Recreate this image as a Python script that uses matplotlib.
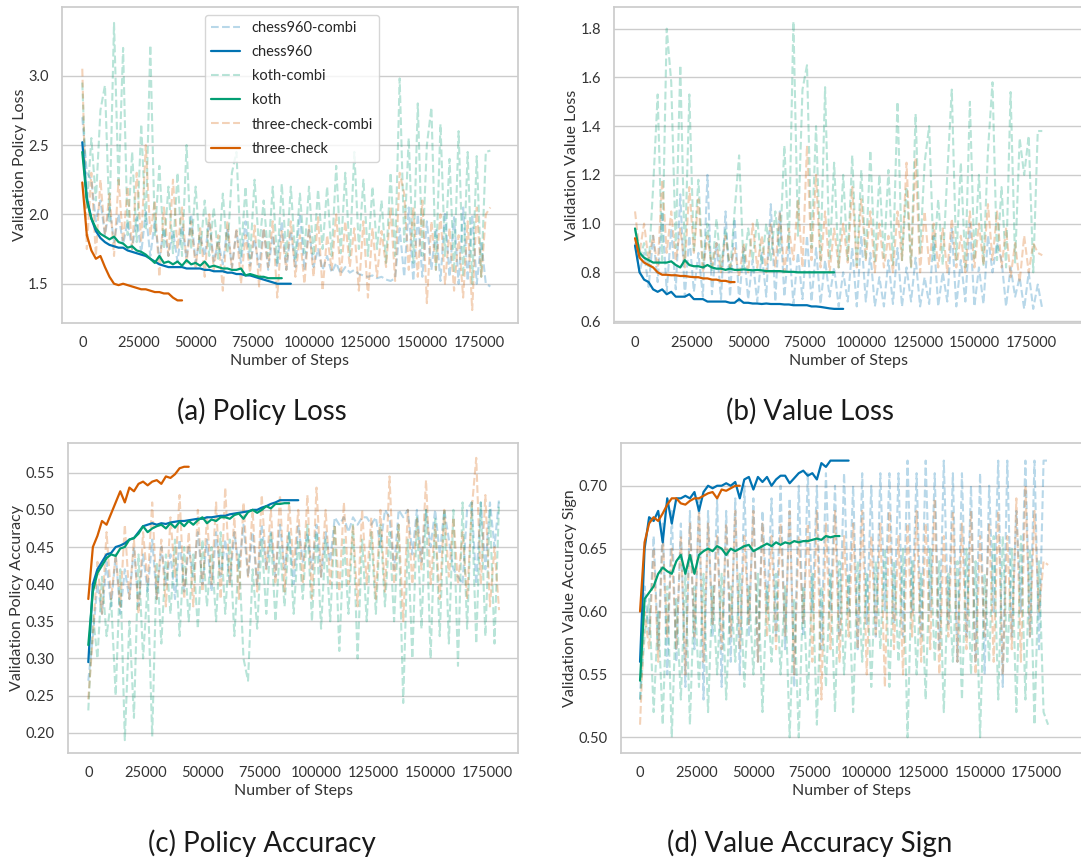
import numpy as np
import matplotlib
matplotlib.use("Agg")
import matplotlib.pyplot as plt
import seaborn as sns

sns.set_theme(style="whitegrid", palette="colorblind")
plt.rcParams['font.family'] = ['Lato', 'DejaVu Sans']

# validation runs were logged every 2000 steps
EVAL_EVERY = 2000

# ---- (a) policy loss ----
pl_chess960 = [2.52, 2.12, 1.97, 1.88, 1.83, 1.80, 1.78, 1.77, 1.76, 1.76,
               1.74, 1.73, 1.72, 1.71, 1.70, 1.68, 1.66, 1.64, 1.63, 1.62,
               1.62, 1.62, 1.62, 1.61, 1.61, 1.61, 1.61, 1.60, 1.60, 1.59,
               1.59, 1.59, 1.58, 1.58, 1.57, 1.57, 1.56, 1.56, 1.55, 1.54,
               1.53, 1.52, 1.51, 1.50, 1.50, 1.50, 1.50]
pl_koth = [2.45, 2.10, 1.97, 1.90, 1.86, 1.84, 1.82, 1.84, 1.80, 1.79,
           1.76, 1.77, 1.74, 1.73, 1.71, 1.68, 1.65, 1.70, 1.65, 1.66,
           1.64, 1.66, 1.63, 1.67, 1.64, 1.65, 1.63, 1.66, 1.62, 1.63,
           1.62, 1.61, 1.61, 1.60, 1.60, 1.61, 1.56, 1.57, 1.56, 1.55,
           1.55, 1.54, 1.54, 1.54, 1.54]
pl_three_check = [2.23, 1.85, 1.74, 1.68, 1.70, 1.62, 1.55, 1.50, 1.49, 1.50,
                  1.49, 1.48, 1.47, 1.46, 1.46, 1.45, 1.44, 1.44, 1.43, 1.43,
                  1.40, 1.38, 1.38]
pl_chess960_combi = [2.70,
                     2.30, 2.25, 1.95, 2.10, 1.85, 2.05, 1.80, 2.00, 1.78, 1.95,
                     1.75, 1.98, 1.72, 2.02, 1.70, 1.95, 1.68, 1.90, 1.70, 1.88,
                     1.66, 1.92, 1.68, 2.00, 1.65, 1.85, 1.70, 1.95, 1.66, 1.80,
                     1.64, 1.90, 1.62, 1.88, 1.65, 1.95, 1.63, 1.82, 1.62, 1.90,
                     1.60, 1.85, 1.62, 1.95, 1.60, 1.88, 1.62, 2.00, 1.60, 1.90,
                     1.62, 1.75, 1.60, 1.70, 1.58, 1.65, 1.57, 1.62, 1.58, 1.60,
                     1.57, 1.56, 1.55, 1.56, 1.54, 1.55, 1.53, 1.52, 1.54, 1.90,
                     1.55, 2.05, 1.52, 2.00, 1.55, 1.95, 1.60, 1.90, 1.52, 2.02,
                     1.55, 1.98, 1.50, 2.05, 1.52, 2.00, 1.50, 1.80, 1.50, 1.48]
pl_koth_combi = [2.95,
                 2.05, 2.55, 2.10, 2.75, 2.93, 1.95, 3.38, 2.20, 3.20, 1.85,
                 2.45, 1.80, 2.65, 1.90, 3.22, 1.85, 2.35, 1.75, 2.20, 1.72,
                 2.30, 1.70, 2.50, 1.75, 2.20, 1.72, 2.10, 1.70, 2.05, 1.68,
                 2.15, 1.72, 2.30, 2.45, 1.70, 2.20, 1.68, 2.25, 1.75, 2.10,
                 1.70, 2.20, 1.65, 2.22, 1.70, 2.20, 1.68, 2.15, 1.72, 2.20,
                 1.70, 2.18, 1.75, 2.20, 1.70, 2.35, 1.72, 2.30, 1.70, 2.45,
                 1.75, 2.25, 1.70, 2.20, 1.75, 2.10, 1.65, 2.30, 1.70, 2.98,
                 1.80, 2.55, 1.65, 2.80, 1.70, 2.50, 2.77, 1.60, 2.65, 1.70,
                 2.40, 1.58, 2.60, 1.55, 2.45, 1.50, 2.42, 1.55, 2.45, 2.46]
pl_three_check_combi = [3.05,
                        1.75, 2.30, 1.70, 2.25, 1.85, 2.15, 1.70, 2.25, 1.80, 2.20,
                        1.75, 2.30, 1.80, 2.50, 1.85, 2.10, 1.55, 2.05, 1.70, 2.25,
                        1.75, 2.05, 1.65, 1.95, 1.62, 1.90, 1.55, 2.00, 1.60, 1.85,
                        1.45, 1.95, 1.60, 1.90, 1.50, 1.85, 1.58, 1.92, 1.48, 1.90,
                        1.62, 1.95, 1.40, 1.88, 1.60, 1.95, 1.55, 1.85, 1.50, 1.92,
                        1.55, 1.98, 1.45, 1.85, 1.60, 2.00, 1.55, 1.95, 1.62, 1.90,
                        1.45, 1.95, 1.40, 1.90, 1.55, 1.88, 1.62, 2.05, 1.52, 2.30,
                        2.15, 1.60, 2.05, 1.55, 2.10, 1.36, 1.95, 1.60, 2.00, 1.50,
                        1.90, 1.45, 1.85, 1.40, 1.95, 1.31, 2.05, 1.55, 2.00, 2.05]

# ---- (b) value loss ----
vl_chess960 = [0.91, 0.80, 0.77, 0.76, 0.73, 0.72, 0.73, 0.71, 0.72, 0.70,
               0.70, 0.70, 0.71, 0.69, 0.69, 0.69, 0.68, 0.68, 0.68, 0.68,
               0.68, 0.675, 0.675, 0.69, 0.675, 0.675, 0.672, 0.672, 0.67, 0.672,
               0.67, 0.67, 0.67, 0.668, 0.668, 0.665, 0.665, 0.665, 0.665, 0.66,
               0.66, 0.658, 0.655, 0.652, 0.65, 0.65, 0.65]
vl_koth = [0.98, 0.88, 0.86, 0.85, 0.84, 0.84, 0.84, 0.84, 0.845, 0.83,
           0.82, 0.85, 0.83, 0.825, 0.825, 0.82, 0.83, 0.82, 0.815, 0.815,
           0.81, 0.815, 0.81, 0.81, 0.812, 0.81, 0.808, 0.81, 0.808, 0.805,
           0.805, 0.805, 0.805, 0.803, 0.802, 0.802, 0.80, 0.80, 0.80, 0.80,
           0.80, 0.80, 0.80, 0.80, 0.80]
vl_three_check = [0.94, 0.86, 0.84, 0.83, 0.82, 0.80, 0.79, 0.79, 0.788, 0.788,
                  0.785, 0.785, 0.782, 0.78, 0.78, 0.775, 0.775, 0.77, 0.77, 0.765,
                  0.765, 0.76, 0.76]
vl_chess960_combi = [0.92,
                     0.80, 0.88, 0.74, 0.95, 0.76, 1.05, 0.72, 0.98, 0.73, 1.12,
                     0.70, 0.95, 0.72, 0.88, 0.70, 1.20, 0.71, 0.92, 0.69, 1.05,
                     0.70, 1.02, 0.68, 0.90, 0.69, 0.85, 0.68, 0.88, 0.70, 1.08,
                     0.68, 1.05, 0.70, 0.92, 0.67, 0.88, 0.69, 0.95, 0.68, 0.90,
                     0.67, 0.85, 0.70, 0.82, 0.66, 0.80, 0.68, 0.90, 0.66, 0.95,
                     0.68, 0.88, 0.66, 0.78, 0.66, 0.85, 0.67, 0.90, 0.66, 0.82,
                     0.68, 0.86, 0.66, 0.78, 0.67, 0.95, 0.66, 0.80, 0.68, 0.98,
                     0.66, 0.85, 0.68, 1.00, 0.66, 0.82, 0.67, 0.95, 0.80, 0.92,
                     0.85, 0.66, 0.82, 0.70, 0.78, 0.65, 0.80, 0.65, 0.75, 0.65]
vl_koth_combi = [0.98,
                 0.85, 0.92, 0.82, 1.15, 1.53, 0.85, 1.80, 1.58, 0.90, 1.65,
                 0.85, 1.53, 0.88, 1.18, 0.82, 1.00, 0.80, 1.02, 0.82, 0.98,
                 0.80, 1.05, 1.28, 0.82, 0.98, 0.85, 1.02, 0.83, 1.00, 0.85,
                 1.05, 0.88, 1.32, 0.90, 1.83, 0.95, 1.55, 1.65, 0.90, 1.40,
                 0.85, 1.56, 0.85, 1.25, 0.82, 1.20, 0.85, 1.28, 0.82, 1.22,
                 0.85, 1.30, 0.84, 1.20, 0.86, 1.22, 0.83, 1.50, 0.85, 1.15,
                 0.82, 1.45, 0.88, 1.25, 1.40, 0.85, 1.10, 0.83, 1.20, 1.55,
                 0.85, 1.25, 0.82, 1.50, 0.85, 1.20, 0.83, 1.30, 1.58, 0.85,
                 1.15, 0.82, 1.54, 0.84, 1.35, 1.20, 1.36, 0.80, 1.38, 1.38]
vl_three_check_combi = [1.05,
                        0.88, 1.00, 0.85, 0.95, 0.82, 1.18, 0.88, 1.05, 0.85, 0.98,
                        0.82, 1.15, 0.88, 1.10, 0.80, 0.95, 0.82, 0.92, 0.80, 0.95,
                        0.82, 0.90, 0.78, 0.92, 0.80, 1.00, 0.82, 0.95, 0.80, 1.00,
                        0.82, 1.05, 0.80, 0.98, 0.85, 1.10, 0.82, 1.32, 0.85, 1.20,
                        0.82, 1.05, 0.80, 0.98, 0.82, 1.00, 0.84, 1.15, 0.82, 1.10,
                        0.85, 1.05, 0.80, 1.00, 0.82, 0.95, 0.80, 1.05, 0.85, 1.25,
                        0.82, 1.27, 0.80, 1.05, 0.83, 1.00, 0.82, 0.98, 0.80, 1.02,
                        0.82, 0.95, 0.80, 1.05, 0.82, 1.00, 0.83, 1.08, 0.85, 1.05,
                        0.82, 0.98, 0.78, 0.92, 0.76, 0.95, 0.80, 0.92, 0.88, 0.87]

# ---- (c) policy accuracy ----
pa_chess960 = [0.295, 0.40, 0.42, 0.43, 0.44, 0.442, 0.45, 0.452, 0.455, 0.46,
               0.462, 0.47, 0.478, 0.48, 0.482, 0.48, 0.482, 0.481, 0.483, 0.484,
               0.485, 0.485, 0.486, 0.487, 0.488, 0.488, 0.49, 0.49, 0.491, 0.492,
               0.492, 0.494, 0.495, 0.496, 0.497, 0.498, 0.50, 0.50, 0.503, 0.505,
               0.508, 0.51, 0.513, 0.513, 0.513, 0.513, 0.513]
pa_koth = [0.318, 0.39, 0.415, 0.425, 0.435, 0.44, 0.438, 0.448, 0.45, 0.46,
           0.462, 0.468, 0.478, 0.47, 0.475, 0.478, 0.48, 0.475, 0.482, 0.476,
           0.484, 0.478, 0.485, 0.48, 0.486, 0.49, 0.482, 0.487, 0.485, 0.49,
           0.49, 0.488, 0.493, 0.495, 0.488, 0.497, 0.50, 0.496, 0.50, 0.505,
           0.502, 0.508, 0.508, 0.509, 0.509]
pa_three_check = [0.38, 0.45, 0.465, 0.485, 0.48, 0.495, 0.51, 0.525, 0.51, 0.53,
                  0.525, 0.535, 0.538, 0.533, 0.538, 0.54, 0.535, 0.545, 0.543, 0.548,
                  0.556, 0.558, 0.558]
pa_chess960_combi = [0.27,
                     0.33, 0.40, 0.36, 0.43, 0.37, 0.44, 0.36, 0.42, 0.38, 0.45,
                     0.37, 0.44, 0.39, 0.46, 0.38, 0.45, 0.40, 0.44, 0.38, 0.46,
                     0.39, 0.45, 0.41, 0.47, 0.40, 0.46, 0.39, 0.47, 0.41, 0.46,
                     0.40, 0.47, 0.42, 0.48, 0.41, 0.47, 0.40, 0.48, 0.42, 0.47,
                     0.41, 0.48, 0.42, 0.47, 0.40, 0.48, 0.43, 0.47, 0.42, 0.48,
                     0.41, 0.47, 0.43, 0.49, 0.48, 0.49, 0.47, 0.49, 0.48, 0.49,
                     0.49, 0.48, 0.49, 0.45, 0.50, 0.49, 0.42, 0.50, 0.49, 0.50,
                     0.44, 0.50, 0.43, 0.50, 0.45, 0.50, 0.44, 0.50, 0.46, 0.42,
                     0.41, 0.40, 0.50, 0.51, 0.40, 0.51, 0.42, 0.51, 0.45, 0.515]
pa_koth_combi = [0.23,
                 0.36, 0.30, 0.41, 0.33, 0.38, 0.25, 0.42, 0.19, 0.35, 0.22,
                 0.44, 0.30, 0.40, 0.195, 0.43, 0.32, 0.44, 0.36, 0.46, 0.33,
                 0.45, 0.35, 0.44, 0.34, 0.46, 0.37, 0.45, 0.35, 0.47, 0.36,
                 0.46, 0.33, 0.44, 0.30, 0.27, 0.42, 0.34, 0.46, 0.36, 0.47,
                 0.35, 0.45, 0.37, 0.47, 0.36, 0.46, 0.38, 0.48, 0.35, 0.47,
                 0.34, 0.46, 0.35, 0.48, 0.31, 0.46, 0.36, 0.48, 0.30, 0.46,
                 0.35, 0.47, 0.36, 0.48, 0.37, 0.47, 0.35, 0.48, 0.24, 0.46,
                 0.30, 0.49, 0.34, 0.50, 0.30, 0.49, 0.33, 0.50, 0.32, 0.50,
                 0.29, 0.51, 0.34, 0.51, 0.32, 0.51, 0.33, 0.50, 0.32, 0.51]
pa_three_check_combi = [0.245,
                        0.33, 0.43, 0.36, 0.47, 0.38, 0.44, 0.37, 0.48, 0.38, 0.46,
                        0.36, 0.47, 0.40, 0.51, 0.38, 0.46, 0.37, 0.49, 0.41, 0.52,
                        0.38, 0.47, 0.37, 0.50, 0.39, 0.49, 0.40, 0.51, 0.38, 0.53,
                        0.40, 0.49, 0.38, 0.51, 0.41, 0.50, 0.39, 0.52, 0.42, 0.50,
                        0.40, 0.52, 0.39, 0.51, 0.42, 0.50, 0.40, 0.52, 0.38, 0.53,
                        0.41, 0.50, 0.40, 0.48, 0.39, 0.51, 0.40, 0.48, 0.37, 0.50,
                        0.40, 0.49, 0.38, 0.50, 0.39, 0.545, 0.40, 0.48, 0.35, 0.50,
                        0.40, 0.49, 0.42, 0.54, 0.40, 0.48, 0.38, 0.50, 0.41, 0.49,
                        0.40, 0.47, 0.38, 0.50, 0.57, 0.40, 0.52, 0.37, 0.45, 0.365]

# ---- (d) value accuracy sign ----
va_chess960 = [0.56, 0.65, 0.675, 0.672, 0.68, 0.655, 0.69, 0.67, 0.69, 0.69,
               0.692, 0.69, 0.695, 0.68, 0.695, 0.70, 0.698, 0.70, 0.70, 0.702,
               0.70, 0.703, 0.69, 0.705, 0.707, 0.697, 0.707, 0.703, 0.707, 0.70,
               0.705, 0.708, 0.708, 0.702, 0.706, 0.71, 0.712, 0.708, 0.71, 0.705,
               0.718, 0.715, 0.72, 0.72, 0.72, 0.72, 0.72]
va_koth = [0.545, 0.61, 0.615, 0.62, 0.63, 0.635, 0.632, 0.63, 0.64, 0.645,
           0.63, 0.645, 0.63, 0.645, 0.648, 0.65, 0.648, 0.652, 0.65, 0.645,
           0.65, 0.648, 0.65, 0.652, 0.653, 0.648, 0.65, 0.652, 0.654, 0.652,
           0.655, 0.653, 0.655, 0.654, 0.656, 0.655, 0.656, 0.656, 0.657, 0.658,
           0.657, 0.66, 0.659, 0.66, 0.66]
va_three_check = [0.60, 0.655, 0.67, 0.675, 0.672, 0.678, 0.685, 0.69, 0.69, 0.686,
                  0.685, 0.688, 0.69, 0.69, 0.692, 0.694, 0.695, 0.69, 0.697, 0.696,
                  0.698, 0.70, 0.70]
va_chess960_combi = [0.53,
                     0.62, 0.58, 0.66, 0.57, 0.67, 0.55, 0.68, 0.56, 0.67, 0.54,
                     0.68, 0.57, 0.69, 0.53, 0.68, 0.58, 0.69, 0.54, 0.68, 0.56,
                     0.69, 0.55, 0.70, 0.58, 0.69, 0.56, 0.68, 0.60, 0.69, 0.58,
                     0.70, 0.57, 0.69, 0.54, 0.70, 0.58, 0.71, 0.60, 0.70, 0.57,
                     0.71, 0.60, 0.70, 0.58, 0.71, 0.60, 0.70, 0.57, 0.71, 0.59,
                     0.70, 0.58, 0.71, 0.60, 0.71, 0.59, 0.71, 0.58, 0.72, 0.60,
                     0.71, 0.58, 0.72, 0.60, 0.71, 0.57, 0.72, 0.59, 0.71, 0.56,
                     0.71, 0.58, 0.70, 0.56, 0.71, 0.55, 0.70, 0.60, 0.72, 0.54,
                     0.72, 0.58, 0.68, 0.60, 0.72, 0.58, 0.72, 0.57, 0.72, 0.72]
va_koth_combi = [0.53,
                 0.58, 0.61, 0.52, 0.60, 0.51, 0.62, 0.50, 0.61, 0.53, 0.63,
                 0.51, 0.62, 0.54, 0.63, 0.52, 0.62, 0.55, 0.63, 0.53, 0.62,
                 0.56, 0.63, 0.54, 0.62, 0.55, 0.63, 0.52, 0.62, 0.56, 0.63,
                 0.55, 0.62, 0.50, 0.61, 0.50, 0.62, 0.53, 0.63, 0.51, 0.62,
                 0.54, 0.63, 0.52, 0.64, 0.55, 0.63, 0.52, 0.64, 0.56, 0.63,
                 0.54, 0.64, 0.57, 0.65, 0.54, 0.64, 0.56, 0.65, 0.50, 0.64,
                 0.55, 0.63, 0.53, 0.65, 0.56, 0.64, 0.52, 0.63, 0.56, 0.64,
                 0.53, 0.65, 0.55, 0.64, 0.50, 0.63, 0.56, 0.66, 0.53, 0.66,
                 0.56, 0.65, 0.52, 0.66, 0.53, 0.65, 0.51, 0.64, 0.52, 0.51]
va_three_check_combi = [0.51,
                        0.60, 0.57, 0.65, 0.56, 0.66, 0.58, 0.65, 0.57, 0.66, 0.55,
                        0.67, 0.58, 0.68, 0.56, 0.67, 0.59, 0.66, 0.57, 0.67, 0.58,
                        0.68, 0.57, 0.66, 0.59, 0.68, 0.56, 0.67, 0.58, 0.66, 0.57,
                        0.67, 0.58, 0.68, 0.55, 0.66, 0.59, 0.67, 0.56, 0.68, 0.53,
                        0.67, 0.57, 0.68, 0.56, 0.66, 0.58, 0.67, 0.57, 0.68, 0.55,
                        0.66, 0.58, 0.67, 0.54, 0.68, 0.57, 0.66, 0.55, 0.67, 0.58,
                        0.68, 0.56, 0.67, 0.57, 0.69, 0.55, 0.66, 0.58, 0.68, 0.56,
                        0.67, 0.57, 0.68, 0.55, 0.66, 0.58, 0.67, 0.56, 0.68, 0.55,
                        0.66, 0.57, 0.69, 0.56, 0.70, 0.58, 0.68, 0.60, 0.64, 0.637]

variants = ["chess960", "koth", "three-check"]
colors = {"chess960": "#0173b2", "koth": "#029e73", "three-check": "#d55e00"}

panels = [
    ("Validation Policy Loss", "(a) Policy Loss",
     {"chess960": (pl_chess960_combi, pl_chess960), "koth": (pl_koth_combi, pl_koth),
      "three-check": (pl_three_check_combi, pl_three_check)}),
    ("Validation Value Loss", "(b) Value Loss",
     {"chess960": (vl_chess960_combi, vl_chess960), "koth": (vl_koth_combi, vl_koth),
      "three-check": (vl_three_check_combi, vl_three_check)}),
    ("Validation Policy Accuracy", "(c) Policy Accuracy",
     {"chess960": (pa_chess960_combi, pa_chess960), "koth": (pa_koth_combi, pa_koth),
      "three-check": (pa_three_check_combi, pa_three_check)}),
    ("Validation Value Accuracy Sign", "(d) Value Accuracy Sign",
     {"chess960": (va_chess960_combi, va_chess960), "koth": (va_koth_combi, va_koth),
      "three-check": (va_three_check_combi, va_three_check)}),
]

W, H = 1081, 859
fig = plt.figure(figsize=(W / 100, H / 100), dpi=100)

# axes boxes in pixels: left, top, right, bottom
boxes = [(62, 7, 518, 323), (614, 7, 1083, 323), (68, 443, 518, 753), (621, 443, 1083, 753)]
xlims = [(-8950, 192200), (-9300, 198000), (-8900, 188300), (-8400, 195400)]
ylims = [(1.217, 3.495), (0.592, 1.889), (0.1727, 0.590), (0.4875, 0.734)]
yticks = [[1.5, 2.0, 2.5, 3.0], [0.6, 0.8, 1.0, 1.2, 1.4, 1.6, 1.8],
          [0.20, 0.25, 0.30, 0.35, 0.40, 0.45, 0.50, 0.55], [0.50, 0.55, 0.60, 0.65, 0.70]]
yfmt = ["%.1f", "%.1f", "%.2f", "%.2f"]
caption_pos = [(262, 411), (810, 411), (262, 843), (810, 843)]

for i, (ylabel, caption, series) in enumerate(panels):
    l, t, r, b = boxes[i]
    ax = fig.add_axes([l / W, 1 - b / H, (r - l) / W, (b - t) / H])
    for v in variants:
        combi, single = series[v]
        ax.plot(EVAL_EVERY * np.arange(len(combi)), combi, ls="--", lw=1.5,
                color=colors[v], alpha=0.28, label=f"{v}-combi", zorder=2)
        ax.plot(EVAL_EVERY * np.arange(len(single)), single, lw=1.6,
                color=colors[v], label=v, zorder=3)
    ax.set_xlim(*xlims[i])
    ax.set_ylim(*ylims[i])
    ax.set_xticks(range(0, 175001, 25000))
    ax.set_yticks(yticks[i])
    ax.set_yticklabels([yfmt[i] % y for y in yticks[i]])
    ax.xaxis.grid(False)
    ax.tick_params(labelsize=10.5, colors="0.2")
    ax.set_xlabel("Number of Steps", fontsize=11.5, color="0.2", labelpad=3)
    ax.set_ylabel(ylabel, fontsize=11.5, color="0.2", labelpad=1)
    for s in ax.spines.values():
        s.set_color("#cccccc")
    if i == 0:
        ax.legend(loc="upper left", bbox_to_anchor=(0.314, 0.975), borderaxespad=0,
                  fontsize=10.5, handlelength=2.0, labelspacing=0.7, frameon=True)
    cx, cy = caption_pos[i]
    fig.text(cx / W, 1 - cy / H, caption, ha="center", va="center", fontsize=20, color="0.1")

fig.savefig("out.png", dpi=100)
